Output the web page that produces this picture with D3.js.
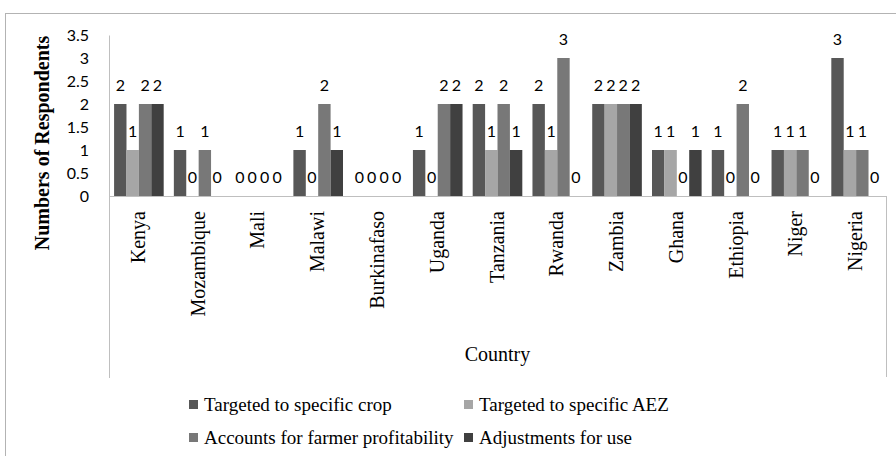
<!DOCTYPE html>
<html>
<head>
<meta charset="utf-8">
<script src="https://cdn.jsdelivr.net/npm/d3@7"></script>
<style>
  body { margin: 0; background: #fff; }
  svg { display: block; }
  .serif { font-family: "Liberation Serif", "Times New Roman", Times, "DejaVu Serif", serif; }
  .sans { font-family: Lato, "Liberation Sans", Arial, sans-serif; }
</style>
</head>
<body>
<div id="chart"></div>
<script>
// data
var countries = ["Kenya", "Mozambique", "Mali", "Malawi", "Burkinafaso", "Uganda", "Tanzania",
                 "Rwanda", "Zambia", "Ghana", "Ethiopia", "Niger", "Nigeria"];
var seriesNames = ["Targeted to specific crop", "Targeted to specific AEZ",
                   "Accounts for farmer profitability", "Adjustments for use"];
var specificCrop  = [2, 1, 0, 1, 0, 1, 2, 2, 2, 1, 1, 1, 3];
var specificAEZ   = [1, 0, 0, 0, 0, 0, 1, 1, 2, 1, 0, 1, 1];
var profitability = [2, 1, 0, 2, 0, 2, 2, 3, 2, 0, 2, 1, 1];
var adjustments   = [2, 0, 0, 1, 0, 2, 1, 0, 2, 1, 0, 0, 0];
var yTicks = [0, 0.5, 1, 1.5, 2, 2.5, 3, 3.5];

var allSeries = [specificCrop, specificAEZ, profitability, adjustments];
var colors = ["#575757", "#a6a6a6", "#787878", "#404040"];

var W = 896, H = 456;
var plot = {left: 109, right: 886, top: 35, bottom: 196};

var svg = d3.select("#chart").append("svg")
    .attr("width", W)
    .attr("height", H);

// outer chart border
svg.append("rect")
    .attr("x", 5.5).attr("y", 13.5)
    .attr("width", W + 10).attr("height", H + 10)
    .attr("fill", "none")
    .attr("stroke", "#b3b3b3");

var x0 = d3.scaleBand()
    .domain(countries)
    .range([plot.left, plot.right])
    .paddingInner(0.17)
    .paddingOuter(0.085);

var x1 = d3.scaleBand()
    .domain(d3.range(seriesNames.length))
    .range([0, x0.bandwidth()]);

var y = d3.scaleLinear()
    .domain([0, 3.5])
    .range([plot.bottom, plot.top]);

// y axis
var yAxis = svg.append("g")
    .attr("transform", "translate(" + plot.left + ",0)")
    .call(d3.axisLeft(y).tickValues(yTicks).tickSize(0).tickPadding(20).tickFormat(d3.format("")));
yAxis.attr("font-family", null).attr("font-size", null);
yAxis.select(".domain").attr("stroke", "#bfbfbf");
yAxis.selectAll("text")
    .attr("class", "sans")
    .attr("fill", "#000")
    .style("font-size", "16px");

// category axis box (baseline plus two side lines)
svg.append("line")
    .attr("x1", plot.left).attr("x2", plot.right)
    .attr("y1", plot.bottom + 0.5).attr("y2", plot.bottom + 0.5)
    .attr("stroke", "#bfbfbf");
svg.append("line")
    .attr("x1", plot.left + 0.5).attr("x2", plot.left + 0.5)
    .attr("y1", plot.bottom).attr("y2", 378)
    .attr("stroke", "#bfbfbf");
svg.append("line")
    .attr("x1", plot.right + 0.5).attr("x2", plot.right + 0.5)
    .attr("y1", plot.bottom).attr("y2", 377)
    .attr("stroke", "#bfbfbf");

// bars
var groups = svg.selectAll(".country")
    .data(countries)
    .enter().append("g")
    .attr("class", "country")
    .attr("transform", function(d) { return "translate(" + x0(d) + ",0)"; });

groups.selectAll("rect")
    .data(function(d, i) { return allSeries.map(function(s, k) { return {k: k, v: s[i]}; }); })
    .enter().append("rect")
    .attr("x", function(d) { return x1(d.k); })
    .attr("width", x1.bandwidth())
    .attr("y", function(d) { return y(d.v); })
    .attr("height", function(d) { return y(0) - y(d.v); })
    .attr("fill", function(d) { return colors[d.k]; });

// data labels
groups.selectAll("text")
    .data(function(d, i) { return allSeries.map(function(s, k) { return {k: k, v: s[i]}; }); })
    .enter().append("text")
    .attr("class", "sans")
    .attr("x", function(d) { return x1(d.k) + x1.bandwidth() / 2; })
    .attr("y", function(d) { return y(d.v) - 13.5; })
    .attr("text-anchor", "middle")
    .style("font-size", "16px")
    .text(function(d) { return d.v; });

// category labels, rotated
svg.selectAll(".cat")
    .data(countries)
    .enter().append("text")
    .attr("class", "cat serif")
    .attr("transform", function(d) {
        return "translate(" + (x0(d) + x0.bandwidth() / 2 + 6) + ",211) rotate(-90)";
    })
    .attr("text-anchor", "end")
    .style("font-size", "20px")
    .text(function(d) { return d; });

// axis titles
svg.append("text")
    .attr("class", "serif")
    .attr("x", (plot.left + plot.right) / 2)
    .attr("y", 361)
    .attr("text-anchor", "middle")
    .style("font-size", "20px")
    .text("Country");

svg.append("text")
    .attr("class", "serif")
    .attr("transform", "translate(49,143) rotate(-90)")
    .attr("text-anchor", "middle")
    .style("font-size", "20px")
    .style("font-weight", "bold")
    .text("Numbers of Respondents");

// legend
var legendPos = [[189, 405], [464, 405], [189, 438], [464, 438]];
var legend = svg.selectAll(".legend")
    .data(seriesNames)
    .enter().append("g")
    .attr("class", "legend")
    .attr("transform", function(d, i) { return "translate(" + legendPos[i][0] + "," + legendPos[i][1] + ")"; });
legend.append("rect")
    .attr("x", 0).attr("y", -5)
    .attr("width", 9).attr("height", 9)
    .attr("fill", function(d, i) { return colors[i]; });
legend.append("text")
    .attr("class", "serif")
    .attr("x", 15)
    .attr("y", 6)
    .style("font-size", "19px")
    .text(function(d) { return d; });
</script>
</body>
</html>
